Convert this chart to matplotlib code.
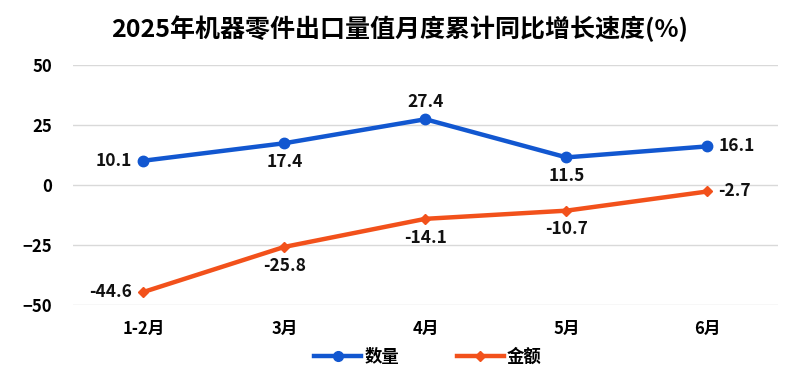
import matplotlib
matplotlib.use("Agg")
import matplotlib.pyplot as plt
from matplotlib.lines import Line2D

plt.rcParams['font.family'] = ['Noto Sans CJK SC', 'DejaVu Sans']

categories = ['1-2月', '3月', '4月', '5月', '6月']
quantity = [10.1, 17.4, 27.4, 11.5, 16.1]
value = [-44.6, -25.8, -14.1, -10.7, -2.7]
yticks = [-50, -25, 0, 25, 50]

blue = '#1257D0'
orange = '#F2511B'

fig = plt.figure(figsize=(8, 3.79), dpi=100)
ax = fig.add_axes([0.091, 0.1953, 0.8815, 0.6332])
x = list(range(len(categories)))

ax.plot(x, quantity, color=blue, lw=3.2, marker='o', ms=7.5, zorder=3)
ax.plot(x, value, color=orange, lw=3.2, marker='D', ms=5, zorder=3)

ax.set_xlim(-0.5, 4.5)
ax.set_ylim(-50, 50)
ax.set_yticks(yticks)
ax.set_xticks(x)
ax.set_xticklabels(categories)
for lab in ax.get_xticklabels() + ax.get_yticklabels():
    lab.set_fontweight('bold')
    lab.set_fontsize(12)
ax.tick_params(axis='both', length=0)
ax.tick_params(axis='y', pad=15)
ax.tick_params(axis='x', pad=11)
ax.grid(axis='y', color='#d9d9d9', lw=1)
ax.set_axisbelow(True)
for s in ax.spines.values():
    s.set_visible(False)

# label placements
q_pos = ['left', 'below', 'above', 'below', 'right']
v_pos = ['left', 'below', 'below', 'below', 'right']

def place(xi, yi, pos):
    off = {'left': (-8, 0, 'right', 'center'),
           'right': (8, 0, 'left', 'center'),
           'above': (0, 6, 'center', 'bottom'),
           'below': (0, -7, 'center', 'top')}[pos]
    ax.annotate(f'{yi}', (xi, yi), xytext=(off[0], off[1]), textcoords='offset points',
                ha=off[2], va=off[3], fontsize=12.5, fontweight='bold', color='#111111')

for xi, yi, p in zip(x, quantity, q_pos):
    place(xi, yi, p)
for xi, yi, p in zip(x, value, v_pos):
    place(xi, yi, p)

fig.text(0.5, 0.925, '2025年机器零件出口量值月度累计同比增长速度(%)', ha='center', va='center',
         fontsize=18, fontweight='bold')

handles = [Line2D([], [], color=blue, lw=3.2, marker='o', ms=7),
           Line2D([], [], color=orange, lw=3.2, marker='D', ms=5)]
fig.legend(handles, ['数量', '金额'], loc='center', bbox_to_anchor=(0.535, 0.058), ncol=2,
           frameon=False, prop={'weight': 'bold', 'size': 12.5}, handlelength=2.7,
           columnspacing=3.3, handletextpad=0.2)

fig.savefig('out.png', dpi=100)
